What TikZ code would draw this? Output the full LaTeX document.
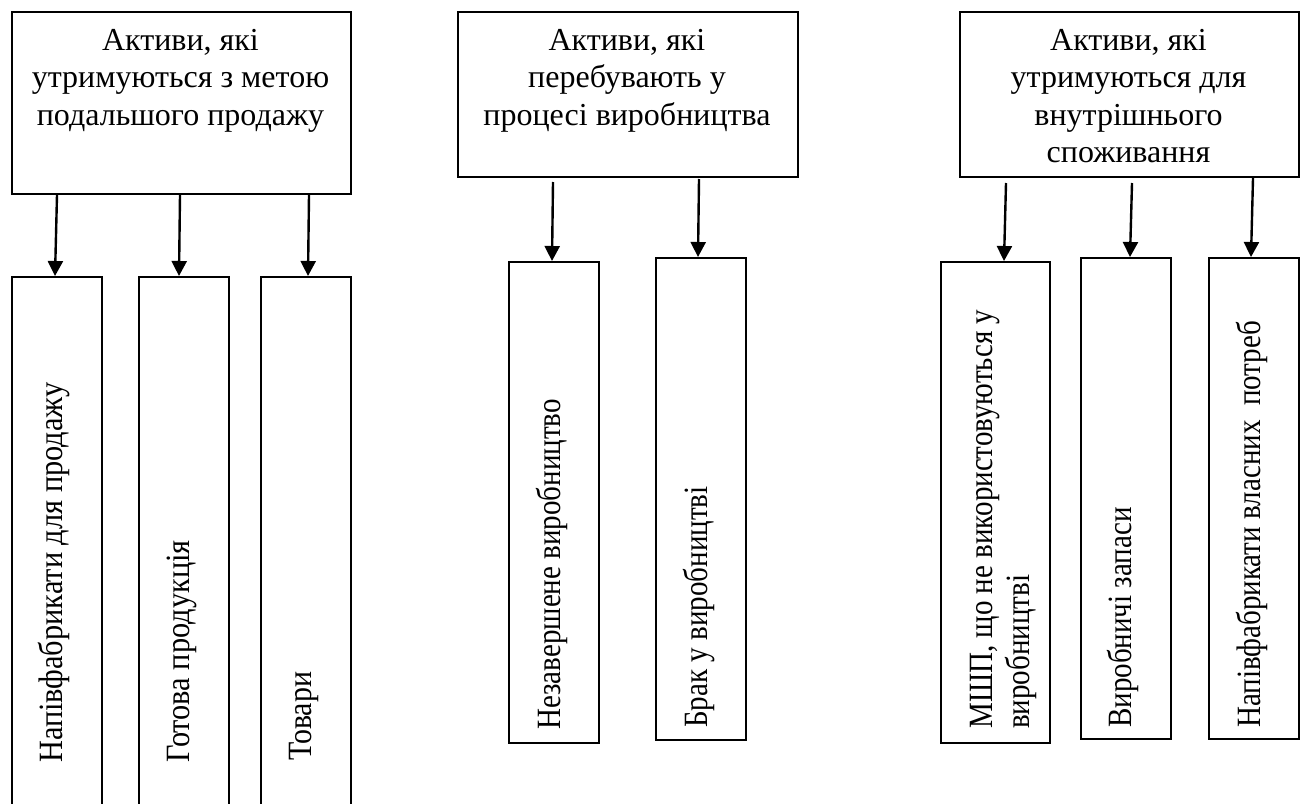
\documentclass[tikz,border=0pt]{standalone}
\usepackage{fontspec}
\setmainfont{Liberation Serif}
\usetikzlibrary{arrows.meta}
% vertical labels are set a little narrower along the line
\newcommand{\squeezed}[2][0.854]{\scalebox{#1}[1]{#2}}
\begin{document}
\begin{tikzpicture}[x=1pt,y=-1pt,
  frame/.style={draw, line width=2pt, inner sep=0pt, anchor=north west},
  head/.style={font=\fontsize{32}{37.5}\selectfont, align=center, inner sep=0pt, anchor=north},
  vlabel/.style={font=\fontsize{34}{37.5}\selectfont, rotate=90, anchor=base west, inner sep=0pt},
  feed/.style={line width=2.4pt, -{Triangle[length=15pt,width=15pt]}}
]
\clip (0,0) rectangle (1305,803);

% group headers
\node[frame, minimum width=339pt, minimum height=182pt] (g1) at (11,11) {};
\node[frame, minimum width=340pt, minimum height=165pt] (g2) at (457,11) {};
\node[frame, minimum width=339pt, minimum height=165pt] (g3) at (959,11) {};

\node[head] (t1) at (180.5,29) {Активи, які\\утримуються з метою\\подальшого продажу};
\node[head] (t2) at (627,29) {Активи, які\\перебувають у\\процесі виробництва};
\node[head] (t3) at (1128.5,29) {Активи, які\\утримуються для\\внутрішнього\\споживання};

% item boxes
\node[frame, minimum width=90pt, minimum height=554pt] (n11) at (11,276) {};
\node[frame, minimum width=90pt, minimum height=554pt] (n12) at (138,276) {};
\node[frame, minimum width=90pt, minimum height=554pt] (n13) at (260,276) {};

\node[frame, minimum width=90pt, minimum height=481pt] (n21) at (508,261) {};
\node[frame, minimum width=90pt, minimum height=482pt] (n22) at (655,257) {};

\node[frame, minimum width=109pt, minimum height=481pt] (n31) at (940,261) {};
\node[frame, minimum width=90pt, minimum height=481pt] (n32) at (1080,257) {};
\node[frame, minimum width=90pt, minimum height=481pt] (n33) at (1208,257) {};

% vertical item labels
\node[vlabel] (l11) at (62,763) {\squeezed[0.893]{Напівфабрикати для продажу}};
\node[vlabel] (l12) at (189,763) {\squeezed[0.893]{Готова продукція}};
\node[vlabel] (l13) at (311,761) {\squeezed[0.88]{Товари}};
\node[vlabel] (l21) at (560,730) {\squeezed{Незавершене виробництво}};
\node[vlabel] (l22) at (707,728) {\squeezed{Брак у виробництві}};
\node[vlabel] (l31a) at (992,729) {\squeezed{МШП, що не використовуються у}};
\node[vlabel] (l31b) at (1029,729) {\squeezed{виробництві}};
\node[vlabel] (l32) at (1131,728) {\squeezed{Виробничі запаси}};
\node[vlabel] (l33) at (1260,728) {\squeezed{Напівфабрикати власних\ \ потреб}};

% connectors
\draw[feed] ([xshift=-124.5pt]g1.south) -- ([xshift=-2pt]n11.north);
\draw[feed] ([xshift=-1.5pt]g1.south) -- ([xshift=-5pt]n12.north);
\draw[feed] ([xshift=127.5pt]g1.south) -- ([xshift=2pt]n13.north);

\draw[feed] ([xshift=-75pt,yshift=-4pt]g2.south) -- ([xshift=-2pt]n21.north);
\draw[feed] ([xshift=71pt,yshift=-1pt]g2.south) -- ([xshift=-3pt]n22.north);

\draw[feed] ([xshift=-123.5pt,yshift=-5pt]g3.south) -- ([xshift=8.5pt]n31.north);
\draw[feed] ([xshift=2.5pt,yshift=-5pt]g3.south) -- ([xshift=4pt]n32.north);
\draw[feed] ([xshift=123.5pt]g3.south) -- ([xshift=-3pt]n33.north);
\end{tikzpicture}
\end{document}
